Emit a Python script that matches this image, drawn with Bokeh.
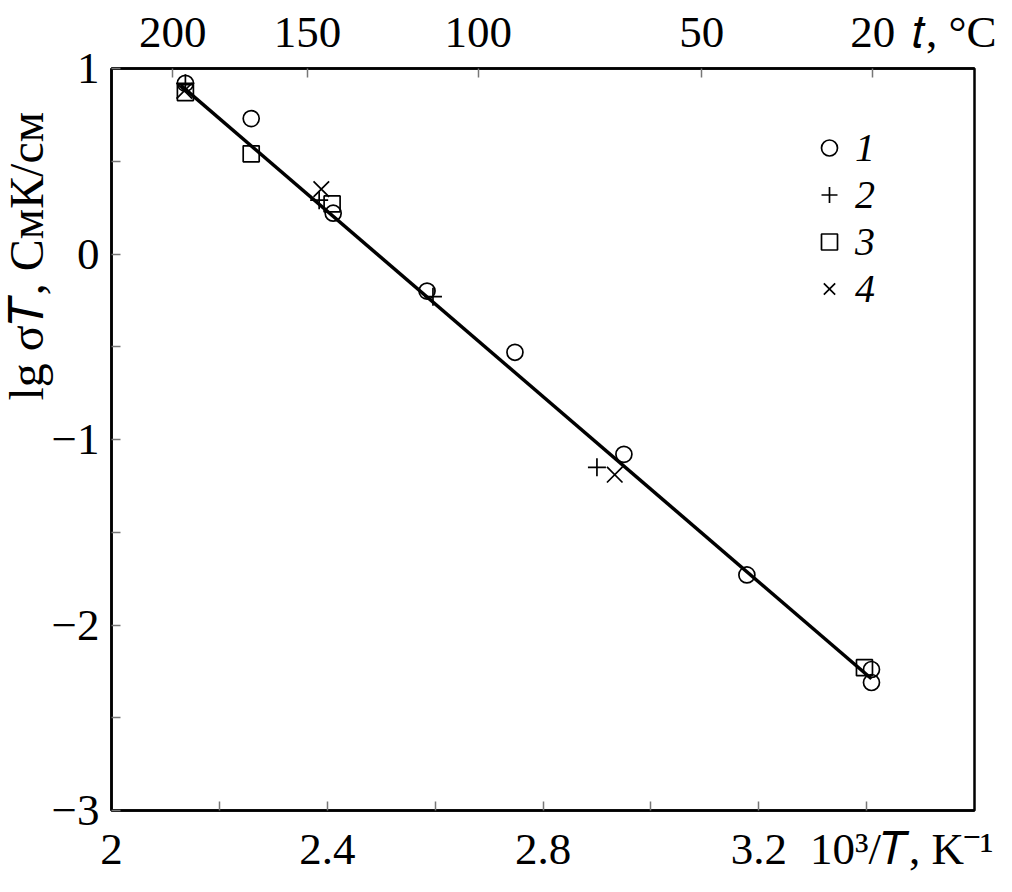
from bokeh.plotting import figure
from bokeh.models import Range1d, LinearAxis, FixedTicker, Legend, LegendItem, Title
from bokeh.embed import file_html
from bokeh.resources import INLINE

# ---- data ----
s1_x = [2.137, 2.259, 2.411, 2.585, 2.748, 2.950, 3.178, 3.409, 3.409]
s1_y = [0.92, 0.73, 0.22, -0.20, -0.53, -1.08, -1.73, -2.24, -2.31]
s2_x = [2.137, 2.385, 2.596, 2.900]
s2_y = [0.92, 0.29, -0.23, -1.15]
s3_x = [2.137, 2.259, 2.409, 3.396]
s3_y = [0.87, 0.54, 0.27, -2.23]
s4_x = [2.135, 2.389, 2.933]
s4_y = [0.88, 0.35, -1.19]
fit_x = [2.128, 3.409]
fit_y = [0.91, -2.29]

x_major = [2.0, 2.4, 2.8, 3.2]
x_minor = [2.2, 2.6, 3.0, 3.4]
x_tick_labels = ["2", "2.4", "2.8", "3.2"]
y_major = [-3, -2, -1, 0, 1]
y_minor = [-2.5, -1.5, -0.5, 0.5]
y_tick_labels = ["\u22123", "\u22122", "\u22121", "0", "1"]
t_celsius = [200, 150, 100, 50, 20]
legend_labels = ["1", "2", "3", "4"]

x_title = "10\u00b3/\U0001D447, K\u207b\u00b9"
t_title = "\U0001D461, \u00b0C"
y_title = "lg \u03c3\U0001D447, \u0421\u043c\u041a/\u0441\u043c"

# text positions (layout, in axis units)
X_TITLE_POS = 3.464
T_TITLE_POS = 3.566

FONT = "Liberation Serif"
TICK_SIZE = "45px"

p = figure(width=996, height=876, x_range=Range1d(2.0, 3.6), y_range=Range1d(-3.0, 1.0),
           output_backend="svg", toolbar_location=None,
           x_axis_location=None, y_axis_location=None,
           min_border_left=111, min_border_right=22, min_border_top=68, min_border_bottom=66)
p.grid.visible = False
p.outline_line_color = "black"
p.outline_line_width = 2.5
p.background_fill_color = "white"
p.border_fill_color = "white"


def style_axis(ax, standoff, major_len=9):
    ax.axis_line_color = "black"
    ax.axis_line_width = 2.5
    ax.major_tick_in = major_len
    ax.major_tick_out = 0
    ax.minor_tick_in = 9
    ax.minor_tick_out = 0
    ax.major_tick_line_color = "#777777"
    ax.minor_tick_line_color = "#777777"
    ax.major_tick_line_width = 1.5
    ax.minor_tick_line_width = 1.5
    ax.major_label_text_font = FONT
    ax.major_label_text_font_size = TICK_SIZE
    ax.major_label_text_color = "black"
    ax.major_label_standoff = standoff


# bottom axis: labelled positions carry no tick mark; marks are drawn as minor ticks
b_labels = {v: s for v, s in zip(x_major, x_tick_labels)}
b_labels[X_TITLE_POS] = x_title
bottom = LinearAxis(ticker=FixedTicker(ticks=x_major + [X_TITLE_POS],
                                       minor_ticks=x_major[1:] + x_minor),
                    major_label_overrides=b_labels)
style_axis(bottom, 13, major_len=0)
p.add_layout(bottom, "below")

left = LinearAxis(ticker=FixedTicker(ticks=y_major, minor_ticks=y_minor),
                  major_label_overrides={v: s for v, s in zip(y_major, y_tick_labels)})
style_axis(left, 12)
p.add_layout(left, "left")

top_ticks = [1000.0 / (t + 273.15) for t in t_celsius]
t_labels = {v: str(t) for v, t in zip(top_ticks, t_celsius)}
t_labels[T_TITLE_POS] = t_title
top = LinearAxis(ticker=FixedTicker(ticks=top_ticks + [T_TITLE_POS], minor_ticks=top_ticks),
                 major_label_overrides=t_labels)
style_axis(top, 12, major_len=0)
p.add_layout(top, "above")

p.add_layout(Title(text=y_title, align="left", vertical_align="top", offset=410,
                   standoff=-12, text_font=FONT, text_font_size="48px",
                   text_font_style="normal", text_color="black"), "left")

# fit line
p.line(fit_x, fit_y, line_color="black", line_width=3.5)

common = dict(fill_color=None, line_color="black", line_width=1.7)
r1 = p.scatter(s1_x, s1_y, marker="circle", size=16, **common)
r2 = p.scatter(s2_x, s2_y, marker="cross", size=18, **common)
r3 = p.scatter(s3_x, s3_y, marker="square", size=16, **common)
r4 = p.scatter(s4_x, s4_y, marker="x", size=22, **common)

legend = Legend(items=[LegendItem(label=lab, renderers=[r]) for lab, r in
                       zip(legend_labels, [r1, r2, r3, r4])],
                location=(698, 498), orientation="vertical",
                glyph_width=40, glyph_height=47, label_height=47, spacing=0,
                padding=0, margin=0, label_standoff=6,
                label_text_font=FONT, label_text_font_style="italic",
                label_text_font_size="40px", label_text_color="black",
                border_line_color=None, background_fill_alpha=0)
p.add_layout(legend, "center")

open("out.html", "w").write(file_html(p, INLINE))
